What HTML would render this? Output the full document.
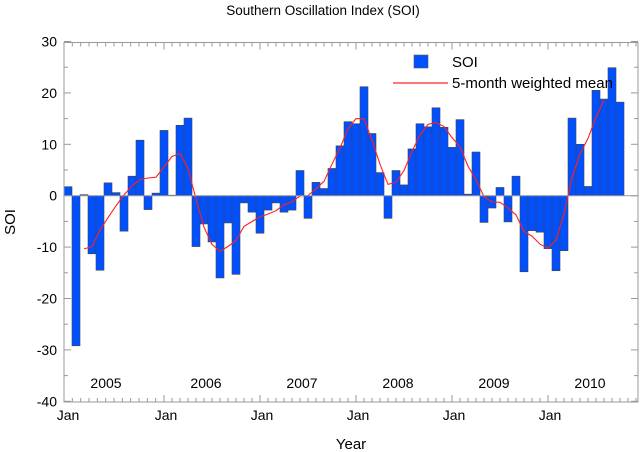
<!DOCTYPE html>
<html><head><meta charset="utf-8"><style>
html,body{margin:0;padding:0;background:#fff;}
svg{display:block;font-family:"Liberation Sans",Arial,sans-serif;}
</style></head><body>
<svg id="c" width="640" height="452" viewBox="0 0 640 452" xmlns="http://www.w3.org/2000/svg">
<rect width="640" height="452" fill="#fff"/>
<g id="bars"></g>
<polyline id="mean" fill="none" stroke="#ff2020" stroke-width="1.1" points=""/>
<g id="axes" stroke="#999" stroke-width="1" fill="none"></g>
<g font-size="14" fill="#000" text-anchor="end" id="ylab"></g>
<text x="323" y="15" font-size="13.5" text-anchor="middle">Southern Oscillation Index (SOI)</text>
<text x="351" y="449" font-size="15" text-anchor="middle">Year</text>
<text transform="translate(15,222) rotate(-90)" font-size="15" text-anchor="middle">SOI</text>
<g font-size="14" text-anchor="middle" id="xlab"></g>
<rect x="414" y="55" width="14" height="13" fill="#0050ff" stroke="#555" stroke-width="0.6"/>
<text x="452" y="67" font-size="15">SOI</text>
<line x1="393" y1="83" x2="448" y2="83" stroke="#ff2020" stroke-width="1.2"/>
<text x="452" y="88" font-size="15">5-month weighted mean</text>
</svg>
<script>
var v=[1.75,-29.2,0.2,-11.3,-14.5,2.5,0.6,-6.9,3.8,10.8,-2.7,0.5,
12.7,0.1,13.7,15.1,-9.9,-5.5,-9.0,-16,-5.3,-15.3,-1.4,-3.2,
-7.3,-2.8,-1.4,-3.2,-2.8,4.9,-4.4,2.6,1.4,5.3,9.7,14.4,
14.0,21.2,12.1,4.5,-4.4,4.9,2.1,9.1,14.0,13.4,17.1,13.3,
9.4,14.8,0.3,8.5,-5.2,-2.4,1.6,-5.1,3.8,-14.8,-6.8,-7.1,
-10.3,-14.6,-10.7,15.1,10.0,1.8,20.5,18.8,24.9,18.2];
var NS="http://www.w3.org/2000/svg";
function y(val){return 195.7-5.14*val;}
function el(t,a,p){var e=document.createElementNS(NS,t);for(var k in a)e.setAttribute(k,a[k]);p.appendChild(e);return e;}
var bars=document.getElementById('bars');
for(var i=0;i<v.length;i++){var y0=y(0),y1=y(v[i]);
el('rect',{x:64+8*i,y:Math.min(y0,y1),width:8,height:Math.max(0.5,Math.abs(y1-y0)),fill:'#0050ff',stroke:'#444','stroke-width':0.6},bars);}
var pts=[];
for(var i=2;i<=67;i++){var s=v[i-2]+2*v[i-1]+3*v[i]+2*v[i+1]+v[i+2];pts.push((68+8*i)+','+y(s/9).toFixed(1));}
document.getElementById('mean').setAttribute('points',pts.join(' '));
var ax=document.getElementById('axes');
el('rect',{x:64,y:42.5,width:574,height:359.5},ax);
el('line',{x1:64,y1:y(0),x2:638,y2:y(0)},ax);
var yl=document.getElementById('ylab');
for(var t=-40;t<=30;t+=5){var yy=y(t);var L=(t%10==0)?7:4;
el('line',{x1:64,y1:yy,x2:64+L,y2:yy},ax);el('line',{x1:638,y1:yy,x2:638-L,y2:yy},ax);
if(t%10==0){var tx=el('text',{x:57,y:yy+5},yl);tx.textContent=t;}}
var jans=[64,164,260,356,452,548];
var xl=document.getElementById('xlab');
for(var j=0;j<jans.length;j++){var x0=jans[j];var nx=j<5?jans[j+1]:644;var step=(nx-x0)/12;
for(var m=0;m<12;m++){var xx=x0+m*step;if(xx>=638)break;var L=m==0?7:4;
el('line',{x1:xx,y1:402,x2:xx,y2:402-L},ax);el('line',{x1:xx,y1:42.5,x2:xx,y2:42.5+L},ax);}
var tx=el('text',{x:j==0?68:x0+2,y:420},xl);tx.textContent='Jan';
var ty=el('text',{x:x0+42,y:388},xl);ty.textContent=2005+j;}
</script>
</body></html>
